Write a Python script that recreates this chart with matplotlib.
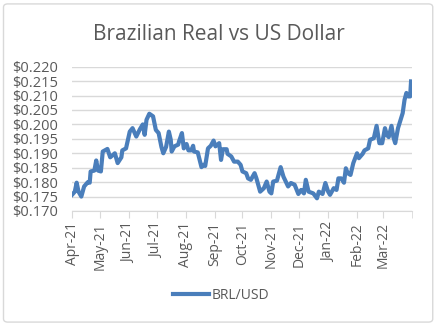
import matplotlib.pyplot as plt
import matplotlib.dates as mdates
from matplotlib.patches import FancyBboxPatch
from matplotlib.ticker import FuncFormatter, MultipleLocator
import pandas as pd

# BRL/USD exchange rate, Apr 2021 - Mar 2022
dates = [
    "2021-04-01", "2021-04-04", "2021-04-06", "2021-04-08", "2021-04-11", "2021-04-14",
    "2021-04-18", "2021-04-20", "2021-04-21", "2021-04-25", "2021-04-27", "2021-04-29",
    "2021-05-02", "2021-05-04", "2021-05-09", "2021-05-12", "2021-05-17", "2021-05-20",
    "2021-05-24", "2021-05-25", "2021-05-29", "2021-06-02", "2021-06-05", "2021-06-09",
    "2021-06-13", "2021-06-16", "2021-06-18", "2021-06-20", "2021-06-23", "2021-06-27",
    "2021-06-30", "2021-07-03", "2021-07-06", "2021-07-08", "2021-07-11", "2021-07-14",
    "2021-07-16", "2021-07-17", "2021-07-20", "2021-07-24", "2021-07-25", "2021-07-28",
    "2021-07-30", "2021-08-02", "2021-08-04", "2021-08-07", "2021-08-09", "2021-08-10",
    "2021-08-14", "2021-08-18", "2021-08-20", "2021-08-22", "2021-08-25", "2021-08-28",
    "2021-08-31", "2021-09-02", "2021-09-06", "2021-09-08", "2021-09-10", "2021-09-14",
    "2021-09-15", "2021-09-19", "2021-09-22", "2021-09-26", "2021-09-29", "2021-10-01",
    "2021-10-05", "2021-10-07", "2021-10-10", "2021-10-14", "2021-10-16", "2021-10-20",
    "2021-10-24", "2021-10-27", "2021-10-30", "2021-11-01", "2021-11-03", "2021-11-07",
    "2021-11-11", "2021-11-14", "2021-11-19", "2021-11-22", "2021-11-26", "2021-11-30",
    "2021-12-03", "2021-12-06", "2021-12-08", "2021-12-11", "2021-12-16", "2021-12-20",
    "2021-12-22", "2021-12-26", "2021-12-29", "2022-01-01", "2022-01-03", "2022-01-07",
    "2022-01-10", "2022-01-12", "2022-01-15", "2022-01-18", "2022-01-20", "2022-01-22",
    "2022-01-25", "2022-01-28", "2022-02-01", "2022-02-03", "2022-02-07", "2022-02-09",
    "2022-02-13", "2022-02-15", "2022-02-19", "2022-02-22", "2022-02-25", "2022-02-28",
    "2022-03-03", "2022-03-05", "2022-03-07", "2022-03-10", "2022-03-12", "2022-03-14",
    "2022-03-17", "2022-03-21", "2022-03-22", "2022-03-24", "2022-03-26", "2022-03-28",
    "2022-03-30", "2022-03-31",
]
brl_usd = [
    0.1756, 0.1767, 0.1798, 0.1767, 0.1750, 0.1785,
    0.1800, 0.1798, 0.1837, 0.1840, 0.1875, 0.1840,
    0.1837, 0.1906, 0.1915, 0.1886, 0.1900, 0.1866,
    0.1886, 0.1910, 0.1917, 0.1975, 0.1987, 0.1958,
    0.1984, 0.2000, 0.1964, 0.2016, 0.2037, 0.2028,
    0.1981, 0.1970, 0.1922, 0.1900, 0.1922, 0.1975,
    0.1947, 0.1906, 0.1924, 0.1930, 0.1942, 0.1970,
    0.1917, 0.1932, 0.1910, 0.1910, 0.1926, 0.1906,
    0.1903, 0.1852, 0.1860, 0.1856, 0.1917, 0.1926,
    0.1944, 0.1924, 0.1935, 0.1877, 0.1914, 0.1914,
    0.1898, 0.1889, 0.1871, 0.1871, 0.1860, 0.1837,
    0.1831, 0.1813, 0.1808, 0.1831, 0.1813, 0.1767,
    0.1779, 0.1802, 0.1767, 0.1761, 0.1802, 0.1805,
    0.1852, 0.1819, 0.1785, 0.1797, 0.1791, 0.1759,
    0.1773, 0.1761, 0.1808, 0.1767, 0.1761, 0.1744,
    0.1767, 0.1759, 0.1797, 0.1767, 0.1756, 0.1779,
    0.1773, 0.1813, 0.1813, 0.1798, 0.1848, 0.1831,
    0.1825, 0.1866, 0.1900, 0.1883, 0.1898, 0.1910,
    0.1917, 0.1947, 0.1952, 0.1995, 0.1935, 0.1935,
    0.1987, 0.1964, 0.1956, 0.1995, 0.1956, 0.1935,
    0.1987, 0.2028, 0.2039, 0.2085, 0.2109, 0.2097,
    0.2097, 0.2149,
]
series_name = "BRL/USD"
title = "Brazilian Real vs US Dollar"

plt.rcParams['font.family'] = ['Open Sans', 'DejaVu Sans']
txt = '#595959'
grid = '#D9D9D9'
blue = '#4A7EBB'

x = pd.to_datetime(dates)
x_start = pd.Timestamp("2021-04-01")
x_end = pd.Timestamp("2022-04-01")

fig = plt.figure(figsize=(4.38, 3.26), dpi=100)
fig.patch.set_facecolor('white')

# chart area border
fig.patches.append(FancyBboxPatch((0.008, 0.012), 0.98, 0.976, boxstyle="round,pad=0,rounding_size=0.01",
                                  transform=fig.transFigure, fill=False, ec=grid, lw=1))

ax = fig.add_axes([0.1644, 0.3528, 0.7762, 0.4426])
ax.plot(x, brl_usd, color=blue, lw=3, solid_joinstyle='round', label=series_name)

ax.set_ylim(0.170, 0.220)
ax.yaxis.set_major_locator(MultipleLocator(0.005))
ax.yaxis.set_major_formatter(FuncFormatter(lambda v, p: f"${v:.3f}"))
ax.set_xlim(x_start, x_end)
# labelled month ticks up to Mar-22, plus an unlabelled tick closing the axis
months = pd.date_range(x_start, x_end, freq='MS')
ax.set_xticks(months[:-1])
ax.xaxis.set_major_formatter(mdates.DateFormatter("%b-%y"))
ax.set_xticks([months[-1]], minor=True)

ax.grid(axis='y', color=grid, lw=1)
ax.set_axisbelow(True)
for s in ['top', 'right', 'left']:
    ax.spines[s].set_visible(False)
ax.spines['bottom'].set_color(grid)
ax.tick_params(axis='y', length=0, labelsize=10.5, labelcolor=txt, pad=10)
ax.tick_params(axis='x', which='both', length=5, color=grid, labelsize=10, labelcolor=txt,
               labelrotation=90, pad=3)

fig.text(0.5, 0.895, title, ha='center', va='center', fontsize=15, color=txt)
fig.legend(loc='center', bbox_to_anchor=(0.505, 0.095), frameon=False, fontsize=10,
           labelcolor=txt, handlelength=2.6, handletextpad=0.2)

fig.savefig("out.png", dpi=100)
